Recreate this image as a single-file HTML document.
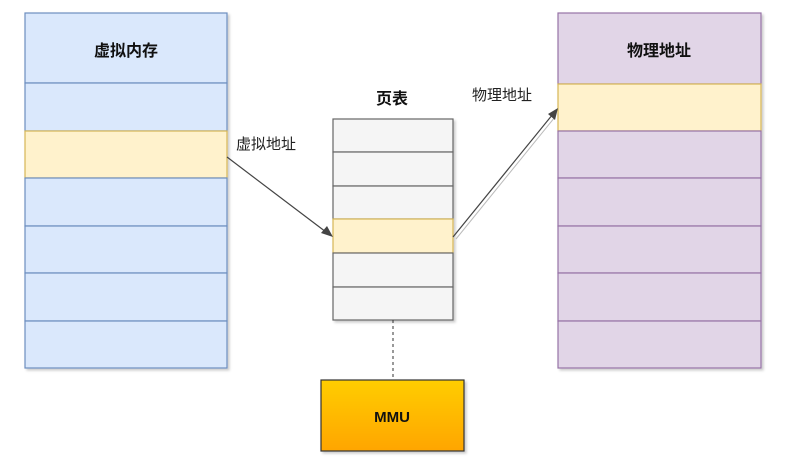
<!DOCTYPE html>
<html><head><meta charset="utf-8"><style>
html,body{margin:0;padding:0;background:#fff;}
svg text{font-family:"Liberation Sans","Noto Sans CJK SC",sans-serif;}
</style></head><body>
<svg width="812" height="471" viewBox="0 0 812 471" xmlns="http://www.w3.org/2000/svg">
<defs>
<linearGradient id="g" x1="0" y1="0" x2="0" y2="1"><stop offset="0" stop-color="#ffcd00"/><stop offset="1" stop-color="#ffa500"/></linearGradient>
<filter id="s" x="-5%" y="-5%" width="115%" height="115%"><feDropShadow dx="2" dy="2" stdDeviation="1.2" flood-color="#000" flood-opacity="0.2"/></filter>
</defs>
<!-- left column -->
<g stroke="#6c8ebf" stroke-width="1.2" filter="url(#s)">
<rect x="25" y="13" width="202" height="70" fill="#dae8fc"/>
<rect x="25" y="83" width="202" height="48" fill="#dae8fc"/>
<rect x="25" y="131" width="202" height="47" fill="#fff2cc" stroke="#d6b656"/>
<rect x="25" y="178" width="202" height="48" fill="#dae8fc"/>
<rect x="25" y="226" width="202" height="47" fill="#dae8fc"/>
<rect x="25" y="273" width="202" height="48" fill="#dae8fc"/>
<rect x="25" y="321" width="202" height="47" fill="#dae8fc"/>
</g>
<text x="126" y="56" font-size="16" font-weight="bold" text-anchor="middle" fill="#111">虚拟内存</text>
<!-- right column -->
<g stroke="#9673a6" stroke-width="1.2" filter="url(#s)">
<rect x="558" y="13" width="203" height="71" fill="#e1d5e7"/>
<rect x="558" y="84" width="203" height="47" fill="#fff2cc" stroke="#d6b656"/>
<rect x="558" y="131" width="203" height="47" fill="#e1d5e7"/>
<rect x="558" y="178" width="203" height="48" fill="#e1d5e7"/>
<rect x="558" y="226" width="203" height="47" fill="#e1d5e7"/>
<rect x="558" y="273" width="203" height="48" fill="#e1d5e7"/>
<rect x="558" y="321" width="203" height="47" fill="#e1d5e7"/>
</g>
<text x="659" y="56" font-size="16" font-weight="bold" text-anchor="middle" fill="#111">物理地址</text>
<!-- page table -->
<g stroke="#666" stroke-width="1.2" filter="url(#s)">
<rect x="333" y="119" width="120" height="33" fill="#f5f5f5"/>
<rect x="333" y="152" width="120" height="34" fill="#f5f5f5"/>
<rect x="333" y="186" width="120" height="33" fill="#f5f5f5"/>
<rect x="333" y="219" width="120" height="34" fill="#fff2cc" stroke="#d6b656"/>
<rect x="333" y="253" width="120" height="34" fill="#f5f5f5"/>
<rect x="333" y="287" width="120" height="33" fill="#f5f5f5"/>
</g>
<text x="392" y="104" font-size="16" font-weight="bold" text-anchor="middle" fill="#111">页表</text>
<!-- MMU -->
<line x1="393" y1="320" x2="393" y2="380" stroke="#333" stroke-dasharray="3,3"/>
<rect x="321" y="380" width="143" height="71" fill="url(#g)" stroke="#333" stroke-width="1.2" filter="url(#s)"/>
<text x="392" y="422" font-size="15" font-weight="bold" text-anchor="middle" fill="#111">MMU</text>
<!-- arrows -->
<line x1="227" y1="157" x2="326" y2="232" stroke="#444" stroke-width="1.2"/>
<polygon points="333,237 321,233 327,226" fill="#444"/>
<line x1="453" y1="237" x2="553" y2="114" stroke="#444" stroke-width="1.2"/>
<line x1="456" y1="239" x2="555" y2="117" stroke="#bbb" stroke-width="1"/>
<polygon points="558,108 555,120 548,114" fill="#444"/>
<text x="236" y="149" font-size="15" fill="#222">虚拟地址</text>
<text x="472" y="100" font-size="15" fill="#222">物理地址</text>
</svg>
</body></html>
